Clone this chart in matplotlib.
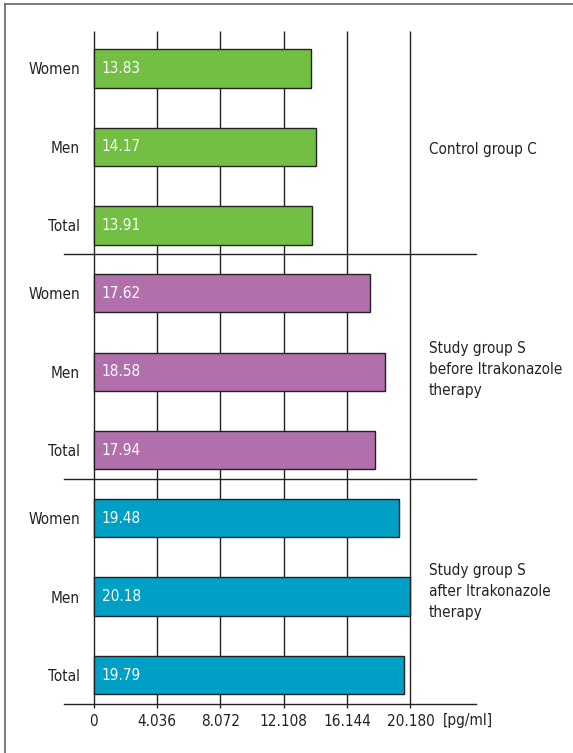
import matplotlib
matplotlib.use('Agg')
import matplotlib.pyplot as plt
from matplotlib import font_manager
from matplotlib.lines import Line2D

# look for a condensed face; fall back to DejaVu Sans
narrow = [f for f in font_manager.fontManager.ttflist
          if ('Condensed' in f.name or 'Narrow' in f.name or f.stretch in ('condensed', 'semi-condensed'))
          and f.style == 'normal' and f.weight in (400, 'normal', 'regular')]
if narrow:
    plt.rcParams['font.family'] = [narrow[0].name, 'DejaVu Sans']
    plt.rcParams['font.stretch'] = narrow[0].stretch
FS = 11

# data
groups = ['Control group C',
          'Study group S\nbefore Itrakonazole\ntherapy',
          'Study group S\nafter Itrakonazole\ntherapy']
categories = ['Women', 'Men', 'Total']
values = [[13.83, 14.17, 13.91],
          [17.62, 18.58, 17.94],
          [19.48, 20.18, 19.79]]
colors = ['#72bf44', '#b170ac', '#009fc6']
ticks = [0, 4.036, 8.072, 12.108, 16.144, 20.180]

W, H = 573, 753
fig = plt.figure(figsize=(W / 100, H / 100), dpi=100)

# axes box in pixels: x 0 -> 93.7, 20.18 -> 410.4 ; y 31 (top) to 708 (bottom)
x0, x1 = 93.7, 410.4
ytop, ybot = 31, 708
ax = fig.add_axes([x0 / W, 1 - ybot / H, (x1 - x0) / W, (ybot - ytop) / H])
ax.set_xlim(0, 20.18)
ax.set_ylim(ybot, ytop)

# row positions (pixel-like units from top)
bar_h = 38.3
positions = []
for g in range(3):
    for i in range(3):
        positions.append(68.5 + 224.8 * g + 78.5 * i)

# vertical grid
ax.vlines(ticks, ytop, ybot, color='#222222', lw=1.0, zorder=1, clip_on=False)

flat_vals = [v for row in values for v in row]
flat_cols = [colors[g] for g in range(3) for _ in range(3)]
ax.barh(positions, flat_vals, height=bar_h, color=flat_cols,
        edgecolor='#222222', linewidth=1.0, zorder=2, clip_on=False)

for p, v in zip(positions, flat_vals):
    ax.annotate(f'{v:.2f}', xy=(0, p), xytext=(5.8, 0), textcoords='offset points',
                ha='left', va='center', color='white', fontsize=FS, zorder=3)

# separators and baseline, extending past the axes
line_x = [(64 - x0) / (x1 - x0), (476 - x0) / (x1 - x0)]
for g in range(1, 3):
    ysep = positions[3 * g] - 39.5
    ax.plot(line_x, [ysep, ysep], transform=ax.get_yaxis_transform(),
            color='#222222', lw=1.0, clip_on=False)
ax.plot(line_x, [704, 704], transform=ax.get_yaxis_transform(),
        color='#222222', lw=1.0, clip_on=False)

# group labels on the right
label_shift = [3, -2, -5]
for g in range(3):
    ax.text((429 - x0) / (x1 - x0), positions[3 * g + 1] + label_shift[g], groups[g],
            transform=ax.get_yaxis_transform(), ha='left', va='center',
            fontsize=FS, color='#222222', linespacing=1.5)

ax.set_yticks(positions)
ax.set_yticklabels(categories * 3)
ax.set_xticks(ticks)
ax.set_xticklabels(['0'] + [f'{t:.3f}' for t in ticks[1:]])
ax.tick_params(axis='both', length=0, labelsize=FS, colors='#222222')
ax.tick_params(axis='y', pad=10)
ax.tick_params(axis='x', pad=4)
for s in ax.spines.values():
    s.set_visible(False)

fig.text(442.7 / W, 1 - 720 / H, '[pg/ml]', ha='left', va='center',
         fontsize=FS, color='#222222')

# outer frame (top and left edges visible)
fig.add_artist(Line2D([5 / W, 5 / W], [0, 1 - 4 / H], color='#666666', lw=1.2))
fig.add_artist(Line2D([5 / W, 1], [1 - 4 / H, 1 - 4 / H], color='#666666', lw=1.2))

fig.savefig('out.png', dpi=100)
